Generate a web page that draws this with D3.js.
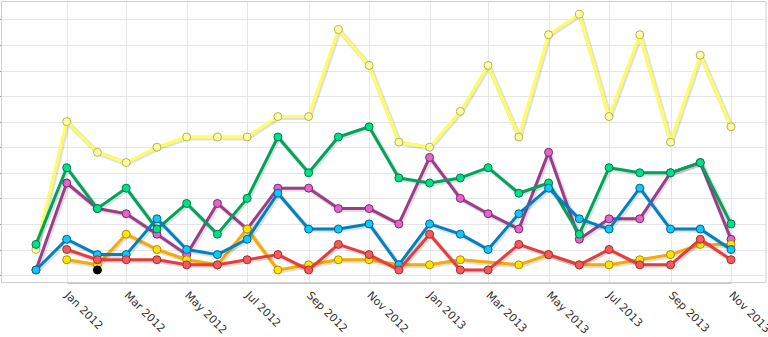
<!DOCTYPE html>
<html>
<head>
<meta charset="utf-8">
<script src="https://cdn.jsdelivr.net/npm/d3@7"></script>
<style>
  html, body { margin: 0; padding: 0; background: #fff; }
  svg { display: block; }
</style>
</head>
<body>
<svg id="chart" width="768" height="337"></svg>
<script>
// ---- data ----
const months = ["2011-12","2012-01","2012-02","2012-03","2012-04","2012-05","2012-06","2012-07","2012-08","2012-09","2012-10","2012-11","2012-12","2013-01","2013-02","2013-03","2013-04","2013-05","2013-06","2013-07","2013-08","2013-09","2013-10","2013-11"];
const yellowValues = [5,30,24,22,25,27,27,27,31,31,48,41,26,25,32,41,27,47,51,31,47,26,43,29];
const purpleValues = [1,18,13,12,8,4,14,9,17,17,13,13,10,23,15,12,9,24,7,11,11,20,22,7];
const greenValues  = [6,21,13,17,9,14,8,15,27,20,27,29,19,18,19,21,16,18,8,21,20,20,22,10];
const orangeValues = [null,3,2,8,5,3,2,9,1,2,3,3,2,2,3,null,2,4,2,2,3,4,6,6];
const blueValues   = [1,7,4,4,11,5,4,7,16,9,9,10,2,10,8,5,12,17,11,9,17,9,9,5];
const redValues    = [null,5,3,3,3,2,2,3,4,1,6,4,1,8,1,1,6,4,2,5,2,2,7,3];
const blackValues  = [null,null,1,null,null,null,null,null,null,null,null,null,null,null,null,null,null,null,null,null,null,null,null,null];
const tickMonths = ["2012-01","2012-03","2012-05","2012-07","2012-09","2012-11","2013-01","2013-03","2013-05","2013-07","2013-09","2013-11"];
const tickLabels = ["Jan 2012","Mar 2012","May 2012","Jul 2012","Sep 2012","Nov 2012","Jan 2013","Mar 2013","May 2013","Jul 2013","Sep 2013","Nov 2013"];
const yGridValues = [0,5,10,15,20,25,30,35,40,45,50];

// ---- styles ----
const series = [
  { values: yellowValues, line: "#ffff5c", fill: "#ffffa6", stroke: "#b3b34d" },
  { values: purpleValues, line: "#9c3d8a", fill: "#e365cc", stroke: "#7a2a6a" },
  { values: greenValues,  line: "#00a35c", fill: "#00e08a", stroke: "#007a45" },
  { values: orangeValues, line: "#f7aa00", fill: "#ffe500", stroke: "#b08a00" },
  { values: blueValues,   line: "#0081c2", fill: "#10c8f2", stroke: "#00609a" },
  { values: redValues,    line: "#e83c3c", fill: "#f05c5c", stroke: "#b02a2a" },
  { values: blackValues,  line: "none",    fill: "#000000", stroke: "#000000" }
];

const parseMonth = d3.timeParse("%Y-%m");
const dates = months.map(parseMonth);

const plot = { left: 2, right: 766.5, top: 2, bottom: 283 };

const x = d3.scaleTime()
  .domain([parseMonth("2012-01"), parseMonth("2013-11")])
  .range([66.7, 731]);
const y = d3.scaleLinear()
  .domain([-1.55, 53.4])
  .range([plot.bottom, plot.top]);

const svg = d3.select("#chart");

// grid
const grid = svg.append("g");
grid.selectAll("line.h").data(yGridValues).join("line")
  .attr("x1", plot.left - 3).attr("x2", plot.right)
  .attr("y1", d => Math.round(y(d)) + 0.5).attr("y2", d => Math.round(y(d)) + 0.5)
  .attr("stroke", "#e6e6e6").attr("stroke-width", 1);
grid.selectAll("line.ht").data(yGridValues).join("line")
  .attr("x1", plot.left - 3).attr("x2", plot.left)
  .attr("y1", d => Math.round(y(d)) + 0.5).attr("y2", d => Math.round(y(d)) + 0.5)
  .attr("stroke", "#999").attr("stroke-width", 1);
grid.selectAll("line.v").data(tickMonths.map(parseMonth)).join("line")
  .attr("x1", d => Math.round(x(d)) + 0.5).attr("x2", d => Math.round(x(d)) + 0.5)
  .attr("y1", plot.top).attr("y2", plot.bottom)
  .attr("stroke", "#e6e6e6").attr("stroke-width", 1);

// plot border
svg.append("rect")
  .attr("x", plot.left - 0.5).attr("y", plot.top - 0.5)
  .attr("width", plot.right - plot.left).attr("height", plot.bottom - plot.top)
  .attr("fill", "none").attr("stroke", "#d0d0d0").attr("stroke-width", 1);

// x axis
const xAxis = d3.axisBottom(x)
  .tickValues(tickMonths.map(parseMonth))
  .tickFormat((d, i) => tickLabels[i])
  .tickSize(0);
const ax = svg.append("g").attr("transform", `translate(0,${plot.bottom})`).call(xAxis);
ax.select(".domain").attr("stroke", "#c8c8c8");
ax.selectAll("text")
  .attr("font-family", "DejaVu Sans, Verdana, sans-serif")
  .attr("font-size", "11px")
  .attr("fill", "#333")
  .attr("text-anchor", "start")
  .attr("y", 0).attr("dy", 0)
  .attr("transform", "translate(-3,13) rotate(45)");

// series
const line = d3.line()
  .defined(d => d.v != null)
  .x(d => x(d.date))
  .y(d => y(d.v));

series.forEach(s => {
  const pts = s.values.map((v, i) => ({ date: dates[i], v })).filter(d => d.v != null);
  const g = svg.append("g");
  if (s.line !== "none") {
    g.append("path").datum(pts)
      .attr("d", line)
      .attr("fill", "none")
      .attr("stroke", "rgba(0,0,0,0.12)")
      .attr("stroke-width", 5)
      .attr("stroke-linejoin", "round")
      .attr("transform", "translate(1,1)");
    g.append("path").datum(pts)
      .attr("d", line)
      .attr("fill", "none")
      .attr("stroke", s.line)
      .attr("stroke-width", 3)
      .attr("stroke-linejoin", "round")
      .attr("stroke-linecap", "round");
  }
  g.selectAll("circle").data(pts).join("circle")
    .attr("cx", d => x(d.date))
    .attr("cy", d => y(d.v))
    .attr("r", 4)
    .attr("fill", s.fill)
    .attr("stroke", s.stroke)
    .attr("stroke-width", 1);
});
</script>
</body>
</html>
